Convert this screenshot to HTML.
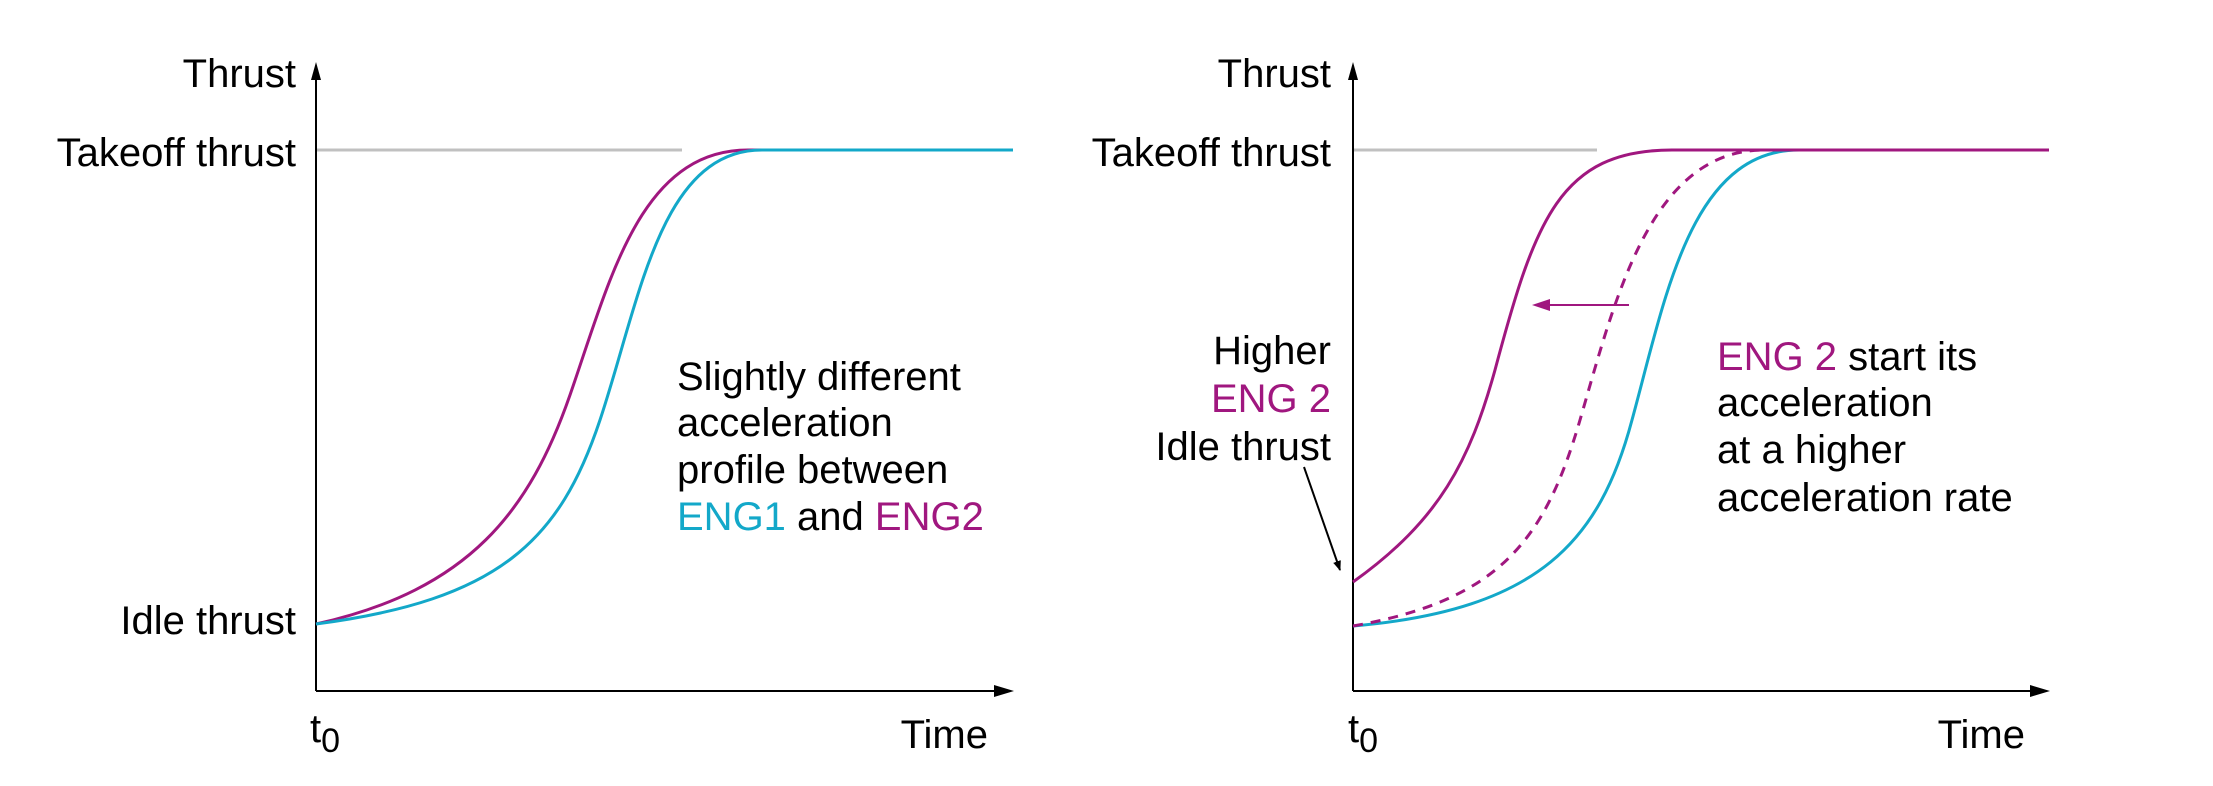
<!DOCTYPE html>
<html><head><meta charset="utf-8"><style>
html,body{margin:0;padding:0;background:#fff}
svg{display:block}
text{font-family:"Liberation Sans",sans-serif;font-size:40px;fill:#000}
.p{fill:#a0177f}.c{fill:#13a8c9}
</style></head><body>
<svg width="2213" height="786" viewBox="0 0 2213 786" xmlns="http://www.w3.org/2000/svg">
<defs>
<marker id="ab" markerWidth="10" markerHeight="8" refX="9" refY="4" orient="auto" markerUnits="userSpaceOnUse"><path d="M0,0 L10,4 L0,8z" fill="#000"/></marker>
</defs>
<line x1="316" y1="150" x2="682" y2="150" stroke="#c0c0c0" stroke-width="3"/>
<line x1="316" y1="691" x2="316" y2="80" stroke="#000" stroke-width="2"/>
<path d="M316,62 L321,80 L311,80z" fill="#000"/>
<line x1="316" y1="691" x2="995" y2="691" stroke="#000" stroke-width="2"/>
<path d="M1014,691 L994,685 L994,697z" fill="#000"/>
<path d="M316,624 C470,590 530,510 570,395 C610,280 640,150 748,150 L900,150" fill="none" stroke="#a0177f" stroke-width="3"/>
<path d="M316,624 C500,600 560,540 600,420 C640,300 660,150 762,150 L1013,150" fill="none" stroke="#13a8c9" stroke-width="3"/>
<text x="296" y="87" text-anchor="end">Thrust</text>
<text x="296" y="166" text-anchor="end">Takeoff thrust</text>
<text x="296" y="634" text-anchor="end">Idle thrust</text>
<text x="310" y="742">t<tspan font-size="34" dy="10">0</tspan></text>
<text x="988" y="748" text-anchor="end">Time</text>
<text x="677" y="390">Slightly different</text>
<text x="677" y="436">acceleration</text>
<text x="677" y="483">profile between</text>
<text x="677" y="530"><tspan class="c">ENG1</tspan> and <tspan class="p">ENG2</tspan></text>
<line x1="1353" y1="150" x2="1597" y2="150" stroke="#c0c0c0" stroke-width="3"/>
<line x1="1353" y1="691" x2="1353" y2="80" stroke="#000" stroke-width="2"/>
<path d="M1353,62 L1358,80 L1348,80z" fill="#000"/>
<line x1="1353" y1="691" x2="2031" y2="691" stroke="#000" stroke-width="2"/>
<path d="M2050,691 L2030,685 L2030,697z" fill="#000"/>
<path d="M1353,626 C1540,610 1600,540 1632,420 C1665,300 1690,150 1799,150 L2049,150" fill="none" stroke="#13a8c9" stroke-width="3"/>
<path d="M1353,626 C1500,600 1545,540 1580,420 C1615,300 1650,150 1764,150 L1800,150" fill="none" stroke="#a0177f" stroke-width="3" stroke-dasharray="10,8"/>
<path d="M1353,582 C1440,520 1470,460 1495,370 C1535,220 1560,150 1672,150 L2049,150" fill="none" stroke="#a0177f" stroke-width="3"/>
<line x1="1629" y1="305" x2="1548" y2="305" stroke="#a0177f" stroke-width="2"/>
<path d="M1532,305 L1550,299 L1550,311z" fill="#a0177f"/>
<line x1="1304" y1="467" x2="1340" y2="570" stroke="#000" stroke-width="2" marker-end="url(#ab)"/>
<text x="1331" y="87" text-anchor="end">Thrust</text>
<text x="1331" y="166" text-anchor="end">Takeoff thrust</text>
<text x="1331" y="364" text-anchor="end">Higher</text>
<text x="1331" y="412" text-anchor="end" class="p">ENG 2</text>
<text x="1331" y="460" text-anchor="end">Idle thrust</text>
<text x="1348" y="742">t<tspan font-size="34" dy="10">0</tspan></text>
<text x="2025" y="748" text-anchor="end">Time</text>
<text x="1717" y="370"><tspan class="p">ENG 2</tspan> start its</text>
<text x="1717" y="416">acceleration</text>
<text x="1717" y="463">at a higher</text>
<text x="1717" y="511">acceleration rate</text>
</svg>
</body></html>
